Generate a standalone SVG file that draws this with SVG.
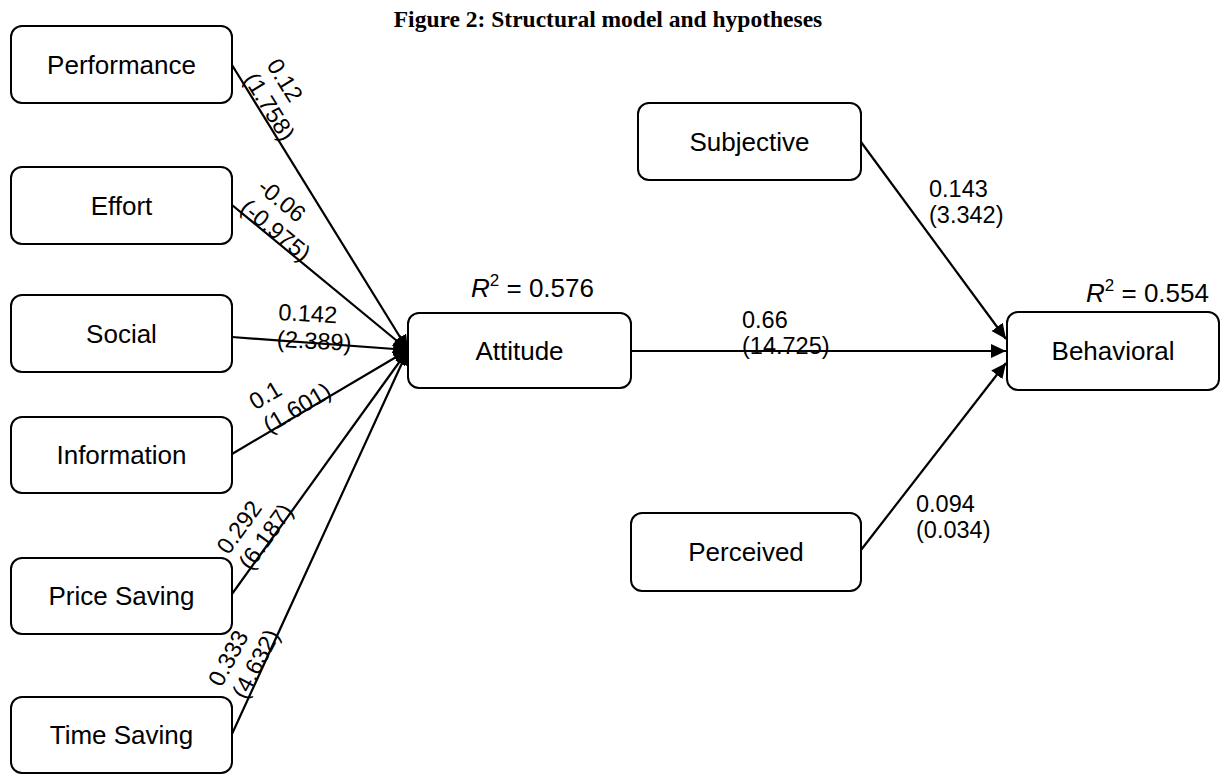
<svg xmlns="http://www.w3.org/2000/svg" width="1222" height="774" viewBox="0 0 1222 774">
<style>
.box{fill:#fff;stroke:#000;stroke-width:2}
.nl{font-family:"Liberation Sans",Arial,sans-serif;font-size:26px;text-anchor:middle;fill:#000}
.el{font-family:"Liberation Sans",Arial,sans-serif;font-size:23.5px;fill:#000}
.r2{font-family:"Liberation Sans",Arial,sans-serif;font-size:26px;fill:#000}
.title{font-family:"Liberation Serif","Times New Roman",serif;font-weight:bold;font-size:23.5px;text-anchor:middle;fill:#000}
.cn line{stroke:#000;stroke-width:2.2;marker-end:url(#ah)}
</style>
<defs>
<marker id="ah" markerUnits="userSpaceOnUse" markerWidth="16" markerHeight="15" refX="15" refY="7" orient="auto">
<path d="M0,0 L15,7 L0,14 z" fill="#000"/>
</marker>
</defs>
<rect width="1222" height="774" fill="#fff"/>
<text class="title" x="608" y="27">Figure 2: Structural model and hypotheses</text>

<g id="connectors" class="cn">
<line x1="232" y1="65" x2="408" y2="350"/>
<line x1="232" y1="205" x2="408" y2="350"/>
<line x1="232" y1="337" x2="408" y2="350"/>
<line x1="232" y1="454" x2="408" y2="350"/>
<line x1="232" y1="594" x2="408" y2="350"/>
<line x1="232" y1="734" x2="408" y2="350"/>
<line x1="631" y1="351" x2="1006" y2="351"/>
<line x1="861" y1="142" x2="1006" y2="339"/>
<line x1="861" y1="550" x2="1006" y2="363"/>
</g>

<g id="edge-labels">
<text class="el" transform="translate(266,65) rotate(58.3)"><tspan x="0" y="0">0.12</tspan><tspan x="0" y="27">(1.758)</tspan></text>
<text class="el" transform="translate(256,189.5) rotate(39.5)"><tspan x="0" y="0">-0.06</tspan><tspan x="0" y="27">(-0.975)</tspan></text>
<text class="el" transform="translate(278,320) rotate(3)"><tspan x="0" y="0">0.142</tspan><tspan x="0" y="27">(2.389)</tspan></text>
<text class="el" transform="translate(255.3,410.5) rotate(-30.8)"><tspan x="0" y="0">0.1</tspan><tspan x="0" y="27">(1.601)</tspan></text>
<text class="el" transform="translate(228.6,555.8) rotate(-54.3)"><tspan x="0" y="0">0.292</tspan><tspan x="0" y="27">(6.187)</tspan></text>
<text class="el" transform="translate(221.6,687.9) rotate(-62)"><tspan x="0" y="0">0.333</tspan><tspan x="0" y="27">(4.632)</tspan></text>
<text class="el"><tspan x="742" y="328">0.66</tspan><tspan x="742" y="354">(14.725)</tspan></text>
<text class="el"><tspan x="929" y="197">0.143</tspan><tspan x="929" y="223">(3.342)</tspan></text>
<text class="el"><tspan x="916" y="512">0.094</tspan><tspan x="916" y="538">(0.034)</tspan></text>
</g>

<g id="performance"><rect class="box" x="11" y="26" width="221" height="77" rx="11"/><text class="nl" x="121.5" y="74">Performance</text></g>
<g id="effort"><rect class="box" x="11" y="167" width="221" height="77" rx="11"/><text class="nl" x="121.5" y="215">Effort</text></g>
<g id="social"><rect class="box" x="11" y="295" width="221" height="77" rx="11"/><text class="nl" x="121.5" y="343">Social</text></g>
<g id="information"><rect class="box" x="11" y="417" width="221" height="76" rx="11"/><text class="nl" x="121.5" y="464">Information</text></g>
<g id="price-saving"><rect class="box" x="11" y="558" width="221" height="76" rx="11"/><text class="nl" x="121.5" y="605">Price Saving</text></g>
<g id="time-saving"><rect class="box" x="11" y="697" width="221" height="76" rx="11"/><text class="nl" x="121.5" y="744">Time Saving</text></g>
<g id="attitude"><rect class="box" x="408" y="313" width="223" height="75" rx="11"/><text class="nl" x="519.5" y="360">Attitude</text>
<text class="r2" x="471" y="297"><tspan font-style="italic">R</tspan><tspan dy="-11" font-size="17">2</tspan><tspan dy="11"> = 0.576</tspan></text></g>
<g id="subjective"><rect class="box" x="638" y="103" width="223" height="77" rx="11"/><text class="nl" x="749.5" y="151">Subjective</text></g>
<g id="perceived"><rect class="box" x="631" y="513" width="230" height="78" rx="11"/><text class="nl" x="746" y="561">Perceived</text></g>
<g id="behavioral"><rect class="box" x="1007" y="312" width="212" height="78" rx="11"/><text class="nl" x="1113" y="360">Behavioral</text>
<text class="r2" x="1086" y="302"><tspan font-style="italic">R</tspan><tspan dy="-11" font-size="17">2</tspan><tspan dy="11"> = 0.554</tspan></text></g>
</svg>
